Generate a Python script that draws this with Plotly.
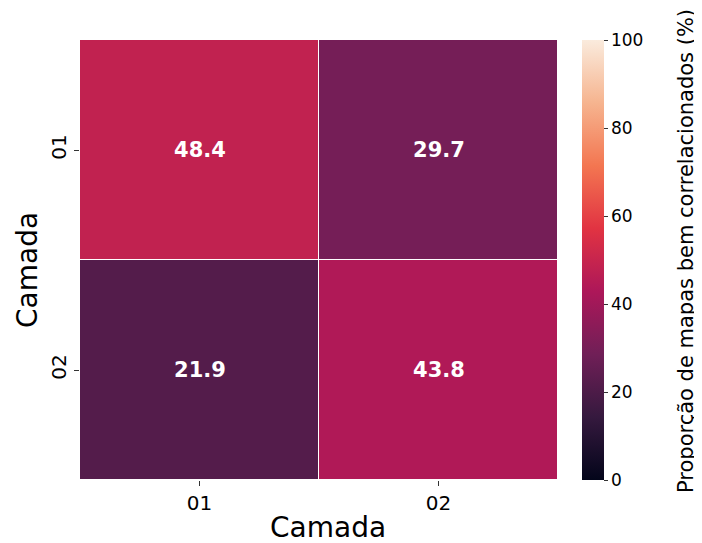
import plotly.graph_objects as go

x_labels = ["01", "02"]
y_labels = ["01", "02"]
values = [[48.4, 29.7],
          [21.9, 43.8]]
cbar_ticks = [0, 20, 40, 60, 80, 100]
cbar_title = "Proporção de mapas bem correlacionados (%)"
axis_title = "Camada"

rocket = [
    [0.0, "#03051a"],
    [1/7, "#35193e"],
    [2/7, "#701f57"],
    [3/7, "#ad1759"],
    [4/7, "#e13342"],
    [5/7, "#f37651"],
    [6/7, "#f6b48f"],
    [1.0, "#faebdd"],
]

font = "DejaVu Sans"
# page body has an 8px margin; margins below compensate for it
L, T, PW, PH = 72, 32, 478, 440
W, H = 702, 543

fig = go.Figure()
fig.add_trace(go.Heatmap(
    z=values, x=x_labels, y=y_labels,
    zmin=0, zmax=100, colorscale=rocket,
    xgap=1, ygap=1,
    text=[[f"{v:.1f}" for v in row] for row in values],
    texttemplate="<b>%{text}</b>",
    textfont=dict(family=font, size=21, color="white"),
    hoverinfo="skip",
    colorbar=dict(
        x=(574 - L) / PW, xanchor="left", xref="paper", xpad=0, ypad=0,
        y=0, yanchor="bottom", len=1, lenmode="fraction",
        thickness=22, outlinewidth=0,
        tickvals=cbar_ticks, ticks="outside", ticklen=4, tickcolor="#333",
        tickfont=dict(family=font, size=17, color="black"),
    ),
))

fig.add_annotation(
    text=cbar_title, xref="paper", yref="paper",
    x=(678 - L) / PW, y=(T + PH - 243) / PH, xanchor="center", yanchor="middle",
    textangle=-90, showarrow=False,
    font=dict(family=font, size=21, color="black"),
)
fig.add_annotation(
    text=axis_title, xref="paper", yref="paper",
    x=(320 - L) / PW, y=(T + PH - 519) / PH, xanchor="center", yanchor="middle",
    showarrow=False, font=dict(family=font, size=28, color="black"),
)
fig.add_annotation(
    text=axis_title, xref="paper", yref="paper",
    x=(19 - L) / PW, y=(T + PH - 262) / PH, xanchor="center", yanchor="middle",
    textangle=-90, showarrow=False, font=dict(family=font, size=28, color="black"),
)

fig.update_layout(
    width=W, height=H,
    margin=dict(l=L, r=W - L - PW, t=T, b=H - T - PH, autoexpand=False),
    plot_bgcolor="white", paper_bgcolor="white",
    font=dict(family=font, color="black"),
    xaxis=dict(tickfont=dict(size=20), ticks="outside", ticklen=5, tickcolor="#333",
               showgrid=False, zeroline=False, automargin=False),
    yaxis=dict(tickfont=dict(size=20), ticks="outside", ticklen=5, tickcolor="#333",
               tickangle=-90, autorange="reversed",
               showgrid=False, zeroline=False, automargin=False),
)

fig.write_html("out.html")
